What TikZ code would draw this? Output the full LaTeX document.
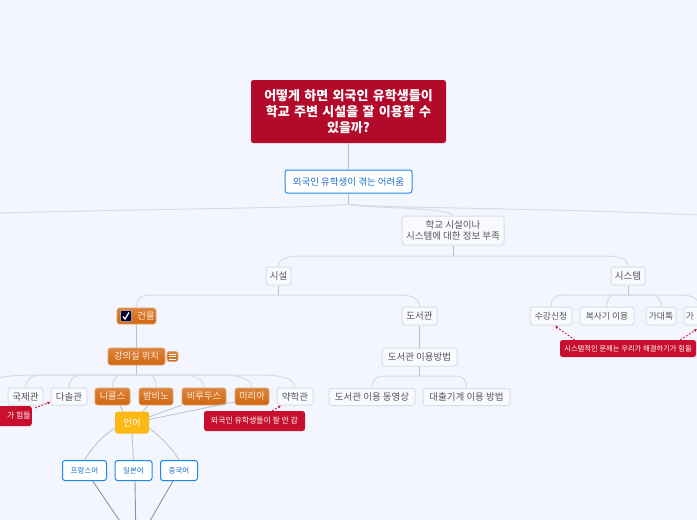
\documentclass[tikz,border=0pt]{standalone}
\usepackage{fontspec}
\setmainfont{Noto Sans CJK KR}
\usetikzlibrary{arrows.meta}
\definecolor{bgc}{HTML}{F3F6FE}
\definecolor{rootred}{HTML}{B30A2B}
\definecolor{redn}{HTML}{C8102E}
\definecolor{blueb}{HTML}{1E88F0}
\definecolor{bluet}{HTML}{1A70D0}
\definecolor{grayb}{HTML}{DADEE8}
\definecolor{grayt}{HTML}{555555}
\definecolor{linec}{HTML}{D8DBE2}
\definecolor{linev}{HTML}{BDBFC4}
\definecolor{oran}{HTML}{D2660F}
\definecolor{gold}{HTML}{FDB813}
\tikzset{
 x=1pt,y=-1pt,
 box/.style={rectangle,rounded corners=2.5pt,inner sep=0pt,align=center},
 plainb/.style={box,draw=grayb,line width=1pt,fill=bgc!60!white,text=grayt,font=\fontsize{9.5}{11}\selectfont},
 smallb/.style={plainb,font=\fontsize{8.8}{11}\selectfont},
 blueb2/.style={box,draw=blueb,line width=1pt,fill=white,text=bluet,font=\fontsize{9.5}{10}\selectfont},
 blues/.style={blueb2,font=\fontsize{7.5}{9}\selectfont},
 orangeb/.style={box,draw=oran!60!white,line width=.6pt,top color=oran!80!white,bottom color=oran,text=white!85!orange,font=\fontsize{9.3}{11}\selectfont},
 redb/.style={box,fill=redn,text=white,font=\fontsize{7.9}{9}\selectfont},
 conn/.style={draw=linec,line width=1pt},
 connv/.style={draw=linev,line width=1pt},
 conn2/.style={draw=linev,line width=.8pt},
 conn3/.style={draw=gray!85!white,line width=.9pt},
 rel/.style={draw=redn,line width=.8pt,dash pattern=on 2pt off 1.5pt,-{Latex[length=3pt,width=3pt]}},
}
\begin{document}
\begin{tikzpicture}
\fill[bgc] (0,0) rectangle (697,520);
\useasboundingbox (0,0) rectangle (697,520);
% nodes
\node[box,fill=rootred,text=white,font=\fontsize{13}{16}\bfseries,text width=180pt,minimum width=195pt,minimum height=63pt] (root) at (348.5,111.5) {어떻게 하면 외국인 유학생들이\\학교 주변 시설을 잘 이용할 수\\있을까?};
\node[blueb2,minimum width=127pt,minimum height=23pt] (hard) at (348.5,181.5) {외국인 유학생이 겪는 어려움};
\node[plainb,minimum width=102pt,minimum height=29pt] (info) at (453,230.5) {학교 시설이나\\시스템에 대한 정보 부족};
\node[plainb,minimum width=25pt,minimum height=18pt] (fac) at (278.5,276) {시설};
\node[plainb,minimum width=34pt,minimum height=18pt] (sys) at (628,276) {시스템};
\node[orangeb,minimum width=39pt,minimum height=16pt] (bld) at (136.5,316) {\hspace{19pt}건물};
\node[rectangle,rounded corners=1pt,inner sep=0pt,fill=black!80!blue,draw=white!60!gray,line width=.5pt,minimum size=11pt] (chk) at (126,316) {};
\draw[white,line width=1.3pt] (chk.center)+(-3,0.5) -- +(-1,3) -- +(3,-3.5);
\node[plainb,minimum width=35pt,minimum height=18pt] (lib) at (419.5,316) {도서관};
\node[orangeb,minimum width=57pt,minimum height=17pt] (room) at (136.5,356.5) {강의실 위치};
\node[orangeb,minimum width=11pt,minimum height=10pt] (ric) at (172.5,356.5) {};
\draw[white,line width=.6pt] (169,354)--(176,354) (169,356.5)--(176,356.5) (169,359)--(176,359);
\node[plainb,minimum width=35pt,minimum height=17pt] (a1) at (25.5,396.5) {국제관};
\node[plainb,minimum width=36pt,minimum height=17pt] (a2) at (69,396.5) {다솔관};
\node[orangeb,minimum width=35pt,minimum height=17pt] (a3) at (112.5,396.5) {니콜스};
\node[orangeb,minimum width=34pt,minimum height=17pt] (a4) at (156,396.5) {밤비노};
\node[orangeb,minimum width=44pt,minimum height=17pt] (a5) at (204,396.5) {비루두스};
\node[orangeb,minimum width=34pt,minimum height=17pt] (a6) at (252,396.5) {미리아};
\node[plainb,minimum width=36pt,minimum height=17pt] (a7) at (295,396.5) {약학관};
\node[box,fill=gold,text=white,font=\fontsize{9.5}{11}\selectfont,minimum width=34pt,minimum height=22pt] (lang) at (132,422.5) {언어};
\node[blues,minimum width=44pt,minimum height=20pt] (fr) at (84.5,470.5) {프랑스어};
\node[blues,minimum width=37pt,minimum height=20pt] (jp) at (133.5,470.5) {일본어};
\node[blues,minimum width=37pt,minimum height=20pt] (cn) at (179,470.5) {중국어};
\node[redb,minimum width=101pt,minimum height=20pt] (r1) at (254.5,421) {외국인 유학생들이 잘 안 감};
\node[redb,minimum width=50pt,minimum height=20pt,anchor=east] (r2) at (32,416) {\hspace{24pt}가 힘듦};
\node[plainb,minimum width=75pt,minimum height=18pt] (use) at (419.5,357) {도서관 이용방법};
\node[plainb,minimum width=86pt,minimum height=17pt] (v1) at (372,397) {도서관 이용 동영상};
\node[plainb,minimum width=87pt,minimum height=17pt] (v2) at (466.5,397) {대출기계 이용 방법};
\node[smallb,minimum width=42pt,minimum height=18pt] (s1) at (551,316) {수강신청};
\node[smallb,minimum width=54pt,minimum height=18pt] (s2) at (607,316) {복사기 이용};
\node[smallb,minimum width=30pt,minimum height=18pt] (s3) at (661,316) {가대톡};
\node[smallb,minimum width=30pt,minimum height=18pt] (s4) at (699,316) {가\hspace{18pt}};
\node[redb,minimum width=136pt,minimum height=17pt,font=\fontsize{7.3}{8}\selectfont] (r3) at (628,348.5) {시스템적인 문제는 우리가 해결하기가 힘듦};
% connectors
\draw[connv] (root.south) -- (hard.north);
\coordinate (j1) at (348.5,204);
\coordinate (off1) at (-2,213);
\coordinate (off2) at (699,215);
\draw[connv] (hard.south) -- (j1);
\draw[conn] (j1) .. controls (320,208) and (200,208) .. (off1);
\draw[conn] (j1) .. controls (360,209) and (450,206) .. (453,216);
\draw[conn] (j1) .. controls (365,208) and (550,208) .. (off2);
\coordinate (j2) at (453,256);
\draw[connv] (info.south) -- (j2);
\draw[conn] (j2) -- (300,256) .. controls (285,256) and (278.5,260) .. (fac.north);
\draw[conn] (j2) -- (605,256) .. controls (622,256) and (628,260) .. (sys.north);
\coordinate (j3) at (278.5,295);
\draw[connv] (fac.south) -- (j3);
\draw[conn] (j3) -- (150,295) .. controls (140,295) and (136.5,299) .. (bld.north);
\draw[conn] (j3) -- (400,295) .. controls (414,295) and (419.5,300) .. (lib.north);
\draw[connv] (bld.south) -- (room.north);
\coordinate (j4) at (136.5,375);
\draw[connv] (room.south) -- (j4);
\coordinate (off3) at (-2,378);
\draw[conn] (j4) -- (40,375) .. controls (20,375) and (5,376) .. (off3);
\draw[conn] (j4) -- (40,375) .. controls (30,376) and (25.5,381) .. (a1.north);
\draw[conn] (j4) -- (80,375) .. controls (72,376) and (69,381) .. (a2.north);
\draw[conn] (j4) -- (120,375) .. controls (115,376) and (112.5,381) .. (a3.north);
\draw[conn] (j4) -- (150,375) .. controls (155,376) and (156,381) .. (a4.north);
\draw[conn] (j4) -- (185,375) .. controls (198,376) and (204,381) .. (a5.north);
\draw[conn] (j4) -- (225,375) .. controls (245,376) and (252,381) .. (a6.north);
\draw[conn] (j4) -- (265,375) .. controls (288,376) and (295,381) .. (a7.north);
\draw[connv] (lib.south) -- (use.north);
\coordinate (j5) at (419.5,376);
\draw[connv] (use.south) -- (j5);
\draw[conn] (j5) -- (385,376) .. controls (375,376) and (372,380) .. (v1.north);
\draw[conn] (j5) -- (455,376) .. controls (464,376) and (466.5,380) .. (v2.north);
\coordinate (j6) at (628,295);
\draw[connv] (sys.south) -- (j6);
\draw[conn] (j6) -- (565,295) .. controls (555,295) and (551,299) .. (s1.north);
\draw[conn] (j6) -- (615,295) .. controls (609,295) and (607,299) .. (s2.north);
\draw[conn] (j6) -- (650,295) .. controls (658,295) and (661,299) .. (s3.north);
\draw[conn] (j6) -- (680,295) .. controls (693,295) and (699,299) .. (s4.north);
% to language
\coordinate (f3) at (120,405.5); \coordinate (t3) at (122.7,411.5);
\coordinate (f4) at (147.7,405.5); \coordinate (t4) at (143,411.5);
\coordinate (f5) at (182,405); \coordinate (t5) at (149,417);
\coordinate (f6) at (234.5,402); \coordinate (t6) at (149,419.5);
\coordinate (l1) at (115,428); \coordinate (l3) at (149,428);
\draw[conn2] (f3) -- (t3);
\draw[conn2] (f4) -- (t4);
\draw[conn2] (f5) -- (t5);
\draw[conn2] (f6) -- (t6);
\draw[conn2] (l1) .. controls (102,436) and (92,448) .. (fr.north);
\draw[conn2] (lang.south) -- (jp.north);
\draw[conn2] (l3) .. controls (160,436) and (172,448) .. (cn.north);
\coordinate (b) at (136,545);
\coordinate (d1) at (92.7,481); \coordinate (d2) at (135,481); \coordinate (d3) at (173,481);
\draw[conn3] (d1) -- (b);
\draw[conn3] (d2) -- (b);
\draw[conn3] (d3) -- (b);
% relations
\coordinate (e1) at (272,411); \coordinate (h1) at (281,405.5);
\coordinate (e2) at (35,408); \coordinate (h2) at (50.5,402);
\coordinate (e3) at (575,340); \coordinate (h3) at (555,326);
\coordinate (e4) at (680,340); \coordinate (h4) at (697,329);
\draw[rel] (e1) -- (h1);
\draw[rel] (e2) -- (h2);
\draw[rel] (e3) -- (h3);
\draw[rel] (e4) -- (h4);
\end{tikzpicture}
\end{document}
